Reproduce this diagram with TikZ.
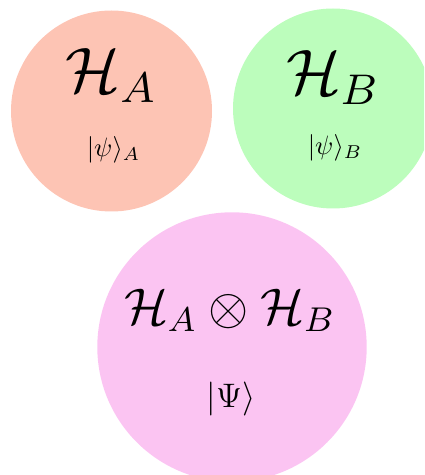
\documentclass[tikz,border=0pt]{standalone}
\usepackage{amsmath}
\usepackage{amssymb}
\usepackage{tikz}
\usetikzlibrary{calc, positioning}

\definecolor{spaceA}{RGB}{253,196,180}
\definecolor{spaceB}{RGB}{188,253,188}
\definecolor{spaceAB}{RGB}{251,196,242}

\begin{document}
\begin{tikzpicture}[
    x=0.5pt, y=-0.5pt,
    space/.style={
        circle, draw=none, inner sep=0pt
    },
    bigname/.style={
        anchor=base, inner sep=0pt, font=\large, scale=2.68, transform shape
    },
    bigket/.style={
        inner sep=0pt, font=\normalsize, scale=1.33, transform shape
    },
    prodname/.style={
        anchor=base, inner sep=0pt, font=\large, scale=2.15, transform shape
    },
    prodket/.style={
        inner sep=0pt, font=\Large, scale=1.18, transform shape
    }
]
\useasboundingbox (0,0) rectangle (424,475);
\clip (0,0) rectangle (424,475);

% Spaces
\node[space, fill=spaceA, minimum size=100.5pt] (hA) at (111.5,111) {};
\node[space, fill=spaceB, minimum size=100pt] (hB) at (333,108.5) {};
\node[space, fill=spaceAB, minimum size=134.7pt] (hAB) at (232,347) {};

% Labels
\node[bigname] (nA) at ($(hA)+(0,-18)$) {$\mathcal{H}_A$};
\node[bigket] (kA) at ($(hA)+(2,39)$) {$|\psi\rangle_A$};
\node[bigname] (nB) at ($(hB)+(0,-13.5)$) {$\mathcal{H}_B$};
\node[bigket] (kB) at ($(hB)+(2,39)$) {$|\psi\rangle_B$};
\node[prodname] (nAB) at ($(hAB)+(-2,-23)$) {$\mathcal{H}_A\otimes\mathcal{H}_B$};
\node[prodket] (kAB) at ($(hAB)+(-1,52)$) {$|\Psi\rangle$};

\end{tikzpicture}
\end{document}
